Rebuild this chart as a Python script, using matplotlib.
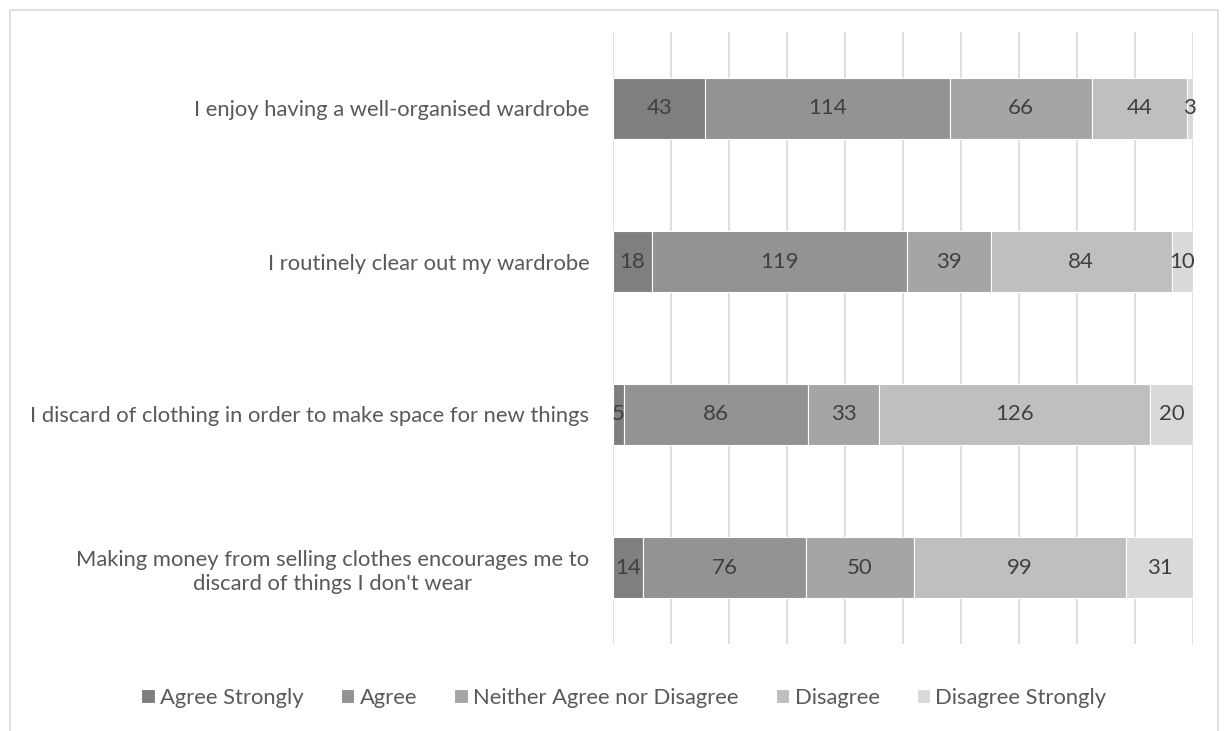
import matplotlib.pyplot as plt
from matplotlib.patches import Rectangle
import numpy as np

plt.rcParams['font.family'] = ['Lato', 'DejaVu Sans']

statements = [
    "I enjoy having a well-organised wardrobe",
    "I routinely clear out my wardrobe",
    "I discard of clothing in order to make space for new things",
    "Making money from selling clothes encourages me to\ndiscard of things I don't wear",
]
responses = ["Agree Strongly", "Agree", "Neither Agree nor Disagree",
             "Disagree", "Disagree Strongly"]
agree_strongly = [43, 18, 5, 14]
agree = [114, 119, 86, 76]
neither = [66, 39, 33, 50]
disagree = [44, 84, 126, 99]
disagree_strongly = [3, 10, 20, 31]

colors = ["#7f7f7f", "#939393", "#a5a5a5", "#bfbfbf", "#d9d9d9"]
txt = "#595959"
val_txt = "#404040"

counts = np.array([agree_strongly, agree, neither, disagree, disagree_strongly], dtype=float)
totals = counts.sum(axis=0)
shares = counts / totals * 100

fig = plt.figure(figsize=(12.29, 7.31), dpi=100)
ax = fig.add_axes([613 / 1229, 1 - 644 / 731, 580 / 1229, 612 / 731])

y = np.arange(len(statements))
left = np.zeros(len(statements))
for i, name in enumerate(responses):
    ax.barh(y, shares[i], left=left, height=0.4, color=colors[i], label=name,
            edgecolor="white", linewidth=0.8, zorder=3)
    for j in range(len(statements)):
        ax.text(left[j] + shares[i][j] / 2, y[j], "%d" % counts[i][j],
                ha="center", va="center", fontsize=16, color=val_txt, zorder=4)
    left += shares[i]

ax.set_xlim(0, 100)
ax.set_ylim(len(statements) - 0.5, -0.5)
ax.set_xticks(np.arange(0, 101, 10))
ax.set_xticklabels([])
ax.tick_params(axis="x", length=0)
ax.tick_params(axis="y", length=0, pad=17)
ax.set_yticks(y)
ax.set_yticklabels(statements, fontsize=15.8, color=txt, linespacing=1.25)
for lab in ax.get_yticklabels():
    lab.set_multialignment("center")
ax.grid(axis="x", color="#d9d9d9", linewidth=1.2, zorder=0)
for s in ax.spines.values():
    s.set_visible(False)

fig.legend(loc="center", bbox_to_anchor=(624 / 1229, 1 - 698 / 731), ncol=5,
           frameon=False, fontsize=15.8, labelcolor=txt, handlelength=0.6,
           handleheight=0.6, handletextpad=0.25, columnspacing=1.7)

# outer chart border
fig.patches.append(Rectangle((10 / 1229, -0.05), 1208 / 1229, 1 - 10 / 731 + 0.05,
                             transform=fig.transFigure, fill=False,
                             edgecolor="#d9d9d9", linewidth=1.2))

fig.savefig("out.png", dpi=100)
